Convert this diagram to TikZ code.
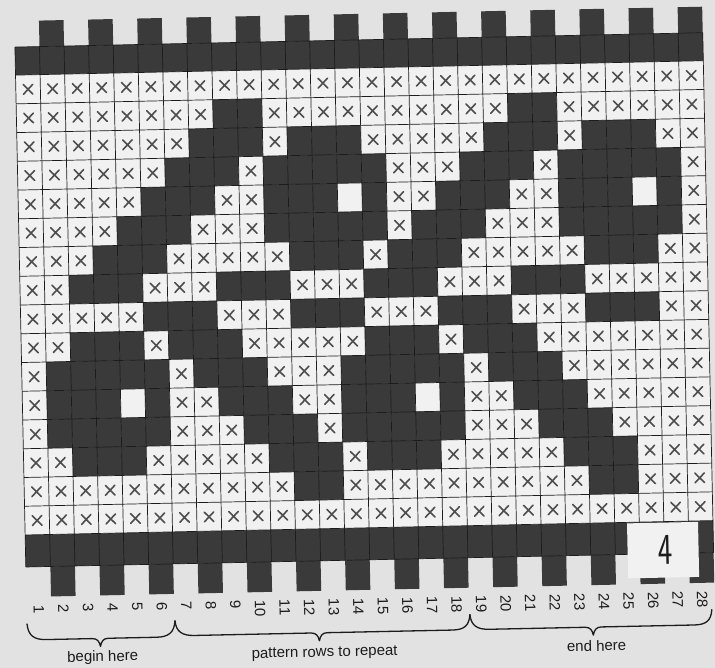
\documentclass[tikz,border=0pt]{standalone}
\usepackage{fontspec}
\setmainfont{Liberation Sans}
\definecolor{paper}{RGB}{226,226,226}
\definecolor{cellw}{RGB}{241,241,241}
\definecolor{celld}{RGB}{58,58,58}
\definecolor{xmk}{RGB}{78,78,78}
\definecolor{ink}{RGB}{28,28,28}
\begin{document}
\begin{tikzpicture}[x=1pt,y=-1pt,
  darkcell/.style={fill=celld},
  lightcell/.style={fill=cellw},
  xmark/.style={draw=xmk,line width=1.6pt,line cap=round},
  gridline/.style={draw=ink,line width=0.7pt},
  numlabel/.style={rotate=-90,anchor=west,inner sep=0pt,font=\fontsize{15}{15}\selectfont,text=ink},
  bracepath/.style={draw=ink,line width=1.3pt,line cap=round,line join=round},
  bracetext/.style={anchor=base,inner sep=0pt,font=\fontsize{15}{18}\selectfont,text=ink}]
\fill[paper] (0,0) rectangle (715,668);
\useasboundingbox (0,0) rectangle (715,668);
\begin{scope}[rotate around={1.2:(357,334)},transform shape]
% top and bottom bands
\fill[darkcell] (21,40) rectangle (709,68);
\fill[darkcell] (21,528) rectangle (709,560);
% teeth
\foreach \c in {2,4,...,28}{
  \fill[darkcell] ({21+24.57*(\c-1)},14) rectangle ({21+24.57*\c},40);
  \fill[darkcell] ({21+24.57*(\c-1)},560) rectangle ({21+24.57*\c},590);
}
% pattern cells: 1 = cross, 0 = dark, 2 = empty light
\foreach \rowcodes [count=\r] in {
{1,1,1,1,1,1,1,1,1,1,1,1,1,1,1,1,1,1,1,1,1,1,1,1,1,1,1,1},
{1,1,1,1,1,1,1,1,0,0,1,1,1,1,1,1,1,1,1,1,0,0,1,1,1,1,1,1},
{1,1,1,1,1,1,1,0,0,0,1,0,0,0,1,1,1,1,1,0,0,0,1,0,0,0,1,1},
{1,1,1,1,1,1,0,0,0,1,0,0,0,0,0,1,1,1,0,0,0,1,0,0,0,0,0,1},
{1,1,1,1,1,0,0,0,1,1,0,0,0,2,0,1,1,0,0,0,1,1,0,0,0,2,0,1},
{1,1,1,1,0,0,0,1,1,1,0,0,0,0,0,1,0,0,0,1,1,1,0,0,0,0,0,1},
{1,1,1,0,0,0,1,1,1,1,1,0,0,0,1,0,0,0,1,1,1,1,1,0,0,0,1,1},
{1,1,0,0,0,1,1,1,0,0,0,1,1,1,0,0,0,1,1,1,0,0,0,1,1,1,1,1},
{1,1,1,1,1,0,0,0,1,1,1,0,0,0,1,1,1,0,0,0,1,1,1,0,0,0,1,1},
{1,1,0,0,0,1,0,0,0,1,1,1,1,1,0,0,0,1,0,0,0,1,1,1,1,1,1,1},
{1,0,0,0,0,0,1,0,0,0,1,1,1,0,0,0,0,0,1,0,0,0,1,1,1,1,1,1},
{1,0,0,0,2,0,1,1,0,0,0,1,1,0,0,0,2,0,1,1,0,0,0,1,1,1,1,1},
{1,0,0,0,0,0,1,1,1,0,0,0,1,0,0,0,0,0,1,1,1,0,0,0,1,1,1,1},
{1,1,0,0,0,1,1,1,1,1,0,0,0,1,0,0,0,1,1,1,1,1,0,0,0,1,1,1},
{1,1,1,1,1,1,1,1,1,1,1,0,0,1,1,1,1,1,1,1,1,1,1,0,0,1,1,1},
{1,1,1,1,1,1,1,1,1,1,1,1,1,1,1,1,1,1,1,1,1,1,1,1,1,1,1,1}}{
  \foreach \v [count=\c] in \rowcodes {
    \pgfmathsetmacro\xa{21+24.57*(\c-1)}
    \pgfmathsetmacro\ya{68+28.75*(\r-1)}
    \ifcase\v\relax
      \fill[darkcell] (\xa,\ya) rectangle ++(24.57,28.75);
    \or
      \fill[lightcell] (\xa,\ya) rectangle ++(24.57,28.75);
      \draw[xmark] (\xa+7.5,\ya+9.6) -- (\xa+17,\ya+19.4) (\xa+7.5,\ya+19.4) -- (\xa+17,\ya+9.6);
    \or
      \fill[lightcell] (\xa,\ya) rectangle ++(24.57,28.75);
    \fi
  }
}
% grid lines
\foreach \k in {0,...,28}{
  \draw[gridline] ({21+24.57*\k},40) -- ({21+24.57*\k},560);
}
\draw[gridline] (21,40) -- (709,40);
\foreach \j in {0,...,16}{
  \draw[gridline] (21,{68+28.75*\j}) -- (709,{68+28.75*\j});
}
\draw[gridline] (21,560) -- (709,560);
% white patch with handwritten 4
\fill[cellw] (623,529) rectangle (694,584);
\node[inner sep=0pt,xscale=0.7,font=\sffamily\fontsize{44}{44}\selectfont,text=ink] (four) at (661,556) {4};
% column numbers
\foreach \c in {1,...,28}{
  \node[numlabel] (lab\c) at ({21+24.57*(\c-0.5)},598) {\c};
}
% braces
\draw[bracepath] (21,617) .. controls (22,629) and (28,633) .. (40,633) -- (86,633)
  .. controls (91,633) and (93,636) .. (94,641) .. controls (95,636) and (97,633) .. (102,633)
  -- (150,633) .. controls (162,633) and (168,629) .. (169,617);
\draw[bracepath] (169,617) .. controls (170,628) and (176,632) .. (188,632) -- (305,632)
  .. controls (310,632) and (312,635) .. (313,640) .. controls (314,635) and (316,632) .. (321,632)
  -- (446,632) .. controls (458,632) and (463,628) .. (464,617);
\draw[bracepath] (464,617) .. controls (465,628) and (471,632) .. (483,632) -- (579,632)
  .. controls (584,632) and (586,635) .. (587,640) .. controls (588,635) and (590,632) .. (595,632)
  -- (688,632) .. controls (700,632) and (705,628) .. (706,617);
\node[bracetext] (tbegin) at (96,656) {begin here};
\node[bracetext] (tpattern) at (318,656) {pattern rows to repeat};
\node[bracetext] (tend) at (590,656) {end here};
\end{scope}
\end{tikzpicture}
\end{document}
